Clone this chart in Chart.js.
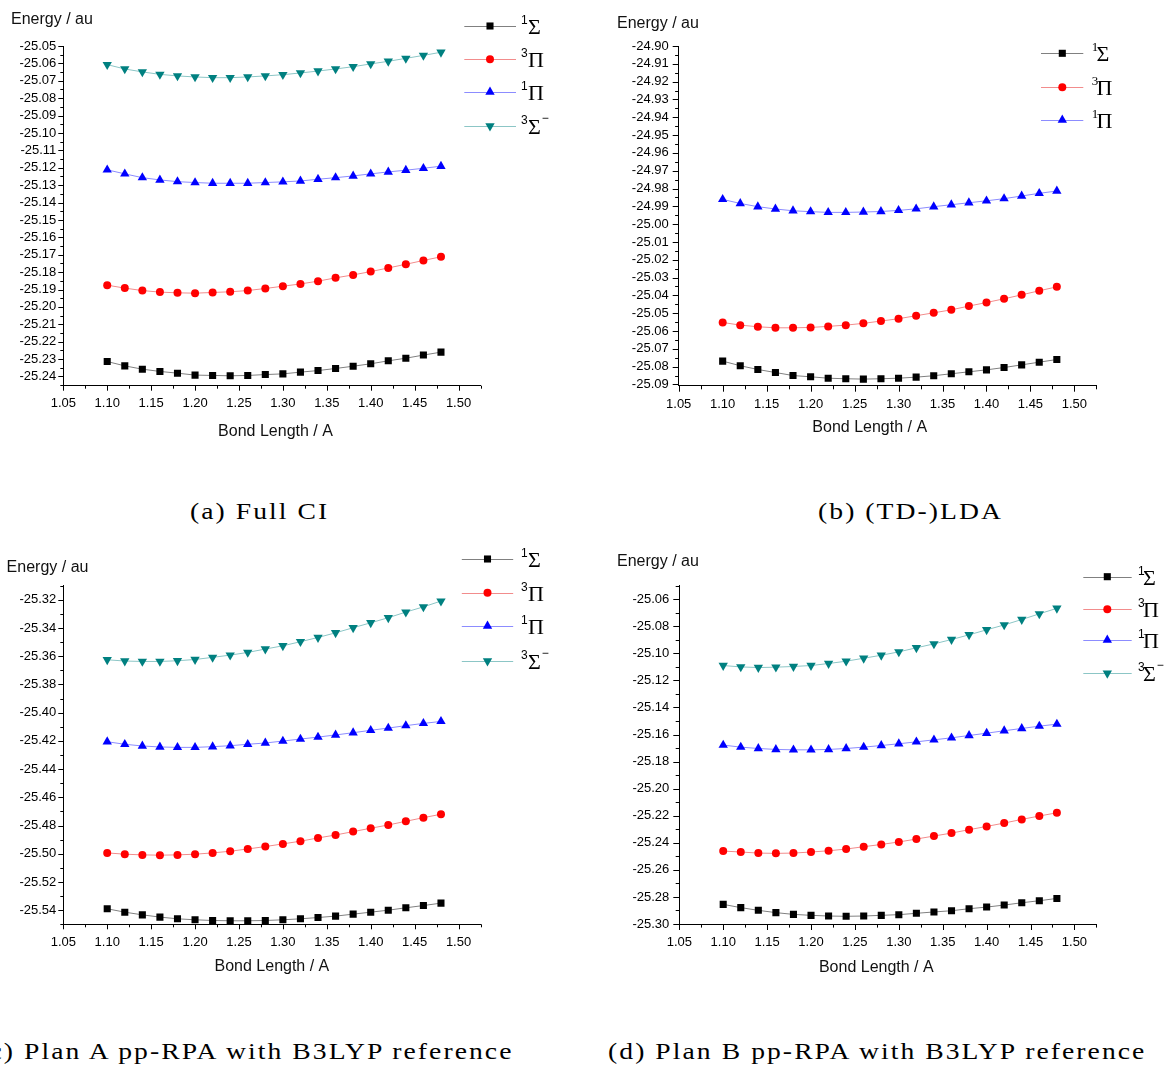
<!DOCTYPE html>
<html>
<head>
<meta charset="utf-8">
<script src="https://cdn.jsdelivr.net/npm/chart.js@4.4.1/dist/chart.umd.min.js"></script>
<style>
  html, body { margin: 0; padding: 0; background: #fff; }
  body { width: 1164px; height: 1068px; position: relative; overflow: hidden; }
  canvas { position: absolute; }
  .cap {
    position: absolute;
    font-family: 'Liberation Serif', 'Times New Roman', serif;
    font-size: 24px;
    line-height: 24px;
    letter-spacing: 1.8px;
    white-space: nowrap;
    color: #000;
    transform: scaleX(1.15);
    transform-origin: left top;
  }
  .cap.right { transform-origin: right top; }
</style>
</head>
<body>
<canvas id="fci" width="582" height="480" style="left:0;top:0"></canvas>
<canvas id="lda" width="582" height="480" style="left:582px;top:0"></canvas>
<canvas id="planA" width="582" height="460" style="left:0;top:530px"></canvas>
<canvas id="planB" width="582" height="460" style="left:582px;top:530px"></canvas>

<div class="cap" style="left:190px;top:499px">(a) Full CI</div>
<div class="cap" style="left:818px;top:499px">(b) (TD-)LDA</div>
<div class="cap right" style="right:650px;top:1039px">(c) Plan A pp-RPA with B3LYP reference</div>
<div class="cap" style="left:608px;top:1039px">(d) Plan B pp-RPA with B3LYP reference</div>

<script>
// bond lengths (A) shared by all four panels
const bondLength = [1.10, 1.12, 1.14, 1.16, 1.18, 1.20, 1.22, 1.24, 1.26, 1.28,
                    1.30, 1.32, 1.34, 1.36, 1.38, 1.40, 1.42, 1.44, 1.46, 1.48];
const xTicks = [1.05, 1.10, 1.15, 1.20, 1.25, 1.30, 1.35, 1.40, 1.45, 1.50];

// state labels: superscript, symbol, trailing superscript
const stateSup  = ['1', '3', '1', '3'];
const stateSym  = ['Σ', 'Π', 'Π', 'Σ'];
const stateTail = ['', '', '', '−'];

// (a) Full CI energies / au
const fciSigma1 = [-25.2314, -25.2339, -25.2358, -25.2371, -25.2381, -25.2392, -25.2394, -25.2396, -25.2394, -25.2389,
                   -25.2385, -25.2375, -25.2366, -25.2354, -25.2341, -25.2327, -25.2310, -25.2295, -25.2277, -25.2260];
const fciPi3    = [-25.1875, -25.1892, -25.1906, -25.1915, -25.1919, -25.1921, -25.1917, -25.1913, -25.1906, -25.1894,
                   -25.1881, -25.1868, -25.1852, -25.1833, -25.1816, -25.1797, -25.1776, -25.1755, -25.1733, -25.1712];
const fciPi1    = [-25.1212, -25.1235, -25.1257, -25.1270, -25.1280, -25.1285, -25.1289, -25.1289, -25.1289, -25.1285,
                   -25.1281, -25.1276, -25.1266, -25.1257, -25.1247, -25.1235, -25.1224, -25.1214, -25.1203, -25.1191];
const fciSigma3 = [-25.0607, -25.0632, -25.0649, -25.0663, -25.0672, -25.0678, -25.0682, -25.0682, -25.0678, -25.0672,
                   -25.0665, -25.0655, -25.0644, -25.0632, -25.0619, -25.0603, -25.0588, -25.0571, -25.0554, -25.0536];
const fciYTicks = [-25.24, -25.23, -25.22, -25.21, -25.20, -25.19, -25.18, -25.17, -25.16, -25.15,
                   -25.14, -25.13, -25.12, -25.11, -25.10, -25.09, -25.08, -25.07, -25.06, -25.05];

// (b) (TD-)LDA energies / au
const ldaSigma1 = [-25.0769, -25.0795, -25.0816, -25.0833, -25.0850, -25.0857, -25.0865, -25.0868, -25.0870, -25.0868,
                   -25.0865, -25.0859, -25.0851, -25.0840, -25.0829, -25.0818, -25.0805, -25.0790, -25.0775, -25.0760];
const ldaPi3    = [-25.0552, -25.0567, -25.0576, -25.0582, -25.0582, -25.0580, -25.0574, -25.0567, -25.0557, -25.0544,
                   -25.0531, -25.0514, -25.0498, -25.0481, -25.0460, -25.0440, -25.0419, -25.0397, -25.0374, -25.0352];
const ldaPi1    = [-24.9861, -24.9884, -24.9902, -24.9915, -24.9925, -24.9930, -24.9934, -24.9934, -24.9932, -24.9929,
                   -24.9923, -24.9914, -24.9902, -24.9891, -24.9880, -24.9869, -24.9857, -24.9842, -24.9827, -24.9814];
const ldaYTicks = [-25.09, -25.08, -25.07, -25.06, -25.05, -25.04, -25.03, -25.02, -25.01, -25.00,
                   -24.99, -24.98, -24.97, -24.96, -24.95, -24.94, -24.93, -24.92, -24.91, -24.90];

// (c) Plan A pp-RPA energies / au
const planASigma1 = [-25.5390, -25.5414, -25.5433, -25.5449, -25.5461, -25.5468, -25.5473, -25.5475, -25.5475, -25.5473,
                     -25.5468, -25.5461, -25.5452, -25.5442, -25.5428, -25.5414, -25.5400, -25.5383, -25.5367, -25.5350];
const planAPi3    = [-25.4994, -25.5003, -25.5008, -25.5010, -25.5008, -25.5003, -25.4994, -25.4982, -25.4966, -25.4949,
                     -25.4930, -25.4911, -25.4888, -25.4867, -25.4843, -25.4819, -25.4796, -25.4770, -25.4744, -25.4720];
const planAPi1    = [-25.4206, -25.4224, -25.4236, -25.4243, -25.4246, -25.4246, -25.4241, -25.4234, -25.4224, -25.4215,
                     -25.4201, -25.4187, -25.4173, -25.4158, -25.4142, -25.4125, -25.4109, -25.4092, -25.4076, -25.4062];
const planASigma3 = [-25.3625, -25.3634, -25.3637, -25.3637, -25.3632, -25.3623, -25.3608, -25.3592, -25.3573, -25.3549,
                     -25.3526, -25.3497, -25.3467, -25.3434, -25.3398, -25.3363, -25.3327, -25.3287, -25.3250, -25.3209];
const planAYTicks = [-25.54, -25.52, -25.50, -25.48, -25.46, -25.44, -25.42, -25.40, -25.38, -25.36, -25.34, -25.32];

// (d) Plan B pp-RPA energies / au
const planBSigma1 = [-25.2855, -25.2879, -25.2899, -25.2916, -25.2929, -25.2936, -25.2941, -25.2943, -25.2941, -25.2936,
                     -25.2931, -25.2921, -25.2911, -25.2902, -25.2887, -25.2875, -25.2860, -25.2843, -25.2828, -25.2811];
const planBPi3    = [-25.2461, -25.2468, -25.2476, -25.2478, -25.2476, -25.2468, -25.2459, -25.2446, -25.2429, -25.2412,
                     -25.2394, -25.2372, -25.2350, -25.2328, -25.2303, -25.2279, -25.2254, -25.2227, -25.2202, -25.2178];
const planBPi1    = [-25.1678, -25.1693, -25.1703, -25.1710, -25.1713, -25.1713, -25.1710, -25.1703, -25.1693, -25.1681,
                     -25.1668, -25.1654, -25.1639, -25.1624, -25.1607, -25.1590, -25.1572, -25.1555, -25.1538, -25.1523];
const planBSigma3 = [-25.1090, -25.1100, -25.1105, -25.1102, -25.1097, -25.1090, -25.1075, -25.1058, -25.1036, -25.1014,
                     -25.0989, -25.0959, -25.0930, -25.0898, -25.0863, -25.0826, -25.0790, -25.0750, -25.0708, -25.0667];
const planBYTicks = [-25.30, -25.28, -25.26, -25.24, -25.22, -25.20, -25.18, -25.16, -25.14, -25.12, -25.10, -25.08, -25.06];

// marker and line style per state (same order as stateSym)
const seriesStyle = [
  { marker: '#000000', line: '#808080', pointStyle: 'rect',     radius: 5.0, rotation: 0 },
  { marker: '#ff0000', line: '#f28c8c', pointStyle: 'circle',   radius: 4.0, rotation: 0 },
  { marker: '#0000ff', line: '#8c8cff', pointStyle: 'triangle', radius: 5.4, rotation: 0 },
  { marker: '#008080', line: '#8cc6c6', pointStyle: 'triangle', radius: 5.4, rotation: 180 }
];

const X_AXIS_H = 40;

const panels = [
  { id: 'fci', series: [fciSigma1, fciPi3, fciPi1, fciSigma3], yTicks: fciYTicks, yMin: -25.2453, yMax: -25.05,
    area: { left: 63.3, top: 46, right: 480.5, bottom: 385.7 }, tickLen: 5, yPad: 2,
    energy: [11, 20], bond: [275.5, 432],
    legend: { x0: 464.3, x1: 516, mx: 490, rows: [26, 59.3, 92, 126], supX: 521, symX: 528, serifSup: false } },
  { id: 'lda', series: [ldaSigma1, ldaPi3, ldaPi1], yTicks: ldaYTicks, yMin: -25.0907, yMax: -24.90,
    area: { left: 96.7, top: 46, right: 514.4, bottom: 385.7 }, tickLen: 6, yPad: 4,
    energy: [35, 23.3], bond: [287.7, 427.3],
    legend: { x0: 459, x1: 501.3, mx: 480.3, rows: [53.3, 87.3, 120], supX: 509.7, symX: 514.5, serifSup: true } },
  { id: 'planA', series: [planASigma1, planAPi3, planAPi1, planASigma3], yTicks: planAYTicks, yMin: -25.55, yMax: -25.31,
    area: { left: 63.3, top: 55.7, right: 480.5, bottom: 394.3 }, tickLen: 5, yPad: 2,
    energy: [6.6, 37.7], bond: [271.9, 436.7],
    legend: { x0: 461.8, x1: 513.2, mx: 487.5, rows: [29, 62.7, 96, 131], supX: 521, symX: 528, serifSup: false } },
  { id: 'planB', series: [planBSigma1, planBPi3, planBPi1, planBSigma3], yTicks: planBYTicks, yMin: -25.30, yMax: -25.05,
    area: { left: 97.3, top: 55.7, right: 514.4, bottom: 394 }, tickLen: 6, yPad: 4,
    energy: [35, 31.7], bond: [294.3, 437.7],
    legend: { x0: 501.3, x1: 549.7, mx: 525.3, rows: [46.7, 79.3, 110, 143.3], supX: 556, symX: 561, serifSup: false } }
];

Chart.defaults.font.family = "'Liberation Sans', Arial, sans-serif";
Chart.defaults.font.size = 13;
Chart.defaults.color = '#000';

// labelled ticks plus an unlabelled minor tick halfway between them
function withMinors(majors, min, max) {
  const step = majors[1] - majors[0];
  const out = [];
  const r = v => Number(v.toFixed(4));
  if (majors[0] - step / 2 >= min - 1e-6) out.push({ value: r(majors[0] - step / 2), isMajor: false });
  majors.forEach((v, i) => {
    out.push({ value: v, isMajor: true });
    const mid = v + step / 2;
    if (i < majors.length - 1 || mid <= max + 1e-6) out.push({ value: r(mid), isMajor: false });
  });
  return out;
}

function tickLabel(value, index, ticks) {
  return ticks[index].isMajor ? value.toFixed(2) : '';
}

// outward tick marks, minor ones shorter
const axisTicks = {
  id: 'axisTicks',
  afterDraw(chart, args, opts) {
    const { ctx, chartArea } = chart;
    const len = opts.len;
    ctx.save();
    ctx.strokeStyle = '#000';
    ctx.lineWidth = 1;
    ctx.beginPath();
    chart.scales.y.ticks.forEach(t => {
      const py = Math.round(chart.scales.y.getPixelForValue(t.value)) + 0.5;
      const l = t.isMajor ? len : len * 0.6;
      ctx.moveTo(chartArea.left - l, py);
      ctx.lineTo(chartArea.left, py);
    });
    chart.scales.x.ticks.forEach(t => {
      const px = Math.round(chart.scales.x.getPixelForValue(t.value)) + 0.5;
      const l = t.isMajor ? len : len * 0.6;
      ctx.moveTo(px, chartArea.bottom);
      ctx.lineTo(px, chartArea.bottom + l);
    });
    ctx.stroke();
    ctx.restore();
  }
};

// axis titles and the state legend
const panelText = {
  id: 'panelText',
  afterDraw(chart, args, p) {
    const ctx = chart.ctx;
    ctx.save();
    ctx.fillStyle = '#111';
    ctx.font = "16px 'Liberation Sans', Arial, sans-serif";
    ctx.textBaseline = 'middle';
    ctx.textAlign = 'left';
    ctx.fillText('Energy / au', p.energy[0], p.energy[1]);
    ctx.textAlign = 'center';
    ctx.fillText('Bond Length / A', p.bond[0], p.bond[1]);

    const lg = p.legend;
    ctx.textAlign = 'left';
    ctx.textBaseline = 'alphabetic';
    lg.rows.forEach((y, i) => {
      const st = seriesStyle[i];
      ctx.strokeStyle = st.line;
      ctx.lineWidth = 1;
      ctx.beginPath();
      ctx.moveTo(lg.x0, Math.round(y) + 0.5);
      ctx.lineTo(lg.x1, Math.round(y) + 0.5);
      ctx.stroke();
      ctx.fillStyle = st.marker;
      Chart.helpers.drawPoint(ctx, { pointStyle: st.pointStyle, rotation: st.rotation, radius: st.radius, borderWidth: 0 }, lg.mx, y);

      ctx.fillStyle = '#000';
      ctx.font = lg.serifSup ? "13px 'Liberation Serif', serif" : "12px 'Liberation Sans', Arial, sans-serif";
      ctx.fillText(stateSup[i], lg.supX, y - 2);
      ctx.font = "22px 'Liberation Serif', serif";
      ctx.fillText(stateSym[i], lg.symX, y + 8);
      if (stateTail[i]) {
        const w = ctx.measureText(stateSym[i]).width;
        ctx.font = "12px 'Liberation Sans', Arial, sans-serif";
        ctx.fillText(stateTail[i], lg.symX + w + 1, y - 4);
      }
    });
    ctx.restore();
  }
};

panels.forEach(p => {
  const canvas = document.getElementById(p.id);
  const W = canvas.width, H = canvas.height;
  new Chart(canvas, {
    type: 'line',
    data: {
      datasets: p.series.map((vals, i) => ({
        label: stateSup[i] + stateSym[i] + stateTail[i],
        data: bondLength.map((x, k) => ({ x: x, y: vals[k] })),
        borderColor: seriesStyle[i].line,
        borderWidth: 1,
        backgroundColor: seriesStyle[i].marker,
        pointBackgroundColor: seriesStyle[i].marker,
        pointBorderWidth: 0,
        pointRadius: seriesStyle[i].radius,
        pointStyle: seriesStyle[i].pointStyle,
        pointRotation: seriesStyle[i].rotation,
        tension: 0,
        fill: false
      }))
    },
    options: {
      responsive: false,
      animation: false,
      events: [],
      layout: {
        padding: { left: 0, top: p.area.top, right: W - p.area.right, bottom: H - p.area.bottom - X_AXIS_H }
      },
      plugins: {
        legend: { display: false },
        tooltip: { enabled: false },
        axisTicks: { len: p.tickLen },
        panelText: p
      },
      scales: {
        x: {
          type: 'linear', bounds: 'data', min: 1.05, max: 1.525,
          afterBuildTicks: s => { s.ticks = withMinors(xTicks, 1.05, 1.525); },
          afterFit: s => { s.height = X_AXIS_H; },
          grid: { display: true, drawOnChartArea: false, color: 'transparent', tickLength: p.tickLen },
          border: { color: '#000', width: 1 },
          ticks: { autoSkip: false, maxRotation: 0, minRotation: 0, padding: 5, callback: tickLabel }
        },
        y: {
          type: 'linear', bounds: 'data', min: p.yMin, max: p.yMax,
          afterBuildTicks: s => { s.ticks = withMinors(p.yTicks, p.yMin, p.yMax); },
          afterFit: s => { s.width = p.area.left; },
          grid: { display: true, drawOnChartArea: false, color: 'transparent', tickLength: p.tickLen },
          border: { color: '#000', width: 1 },
          ticks: { autoSkip: false, padding: p.yPad, callback: tickLabel }
        }
      }
    },
    plugins: [axisTicks, panelText]
  });
});
</script>
</body>
</html>
